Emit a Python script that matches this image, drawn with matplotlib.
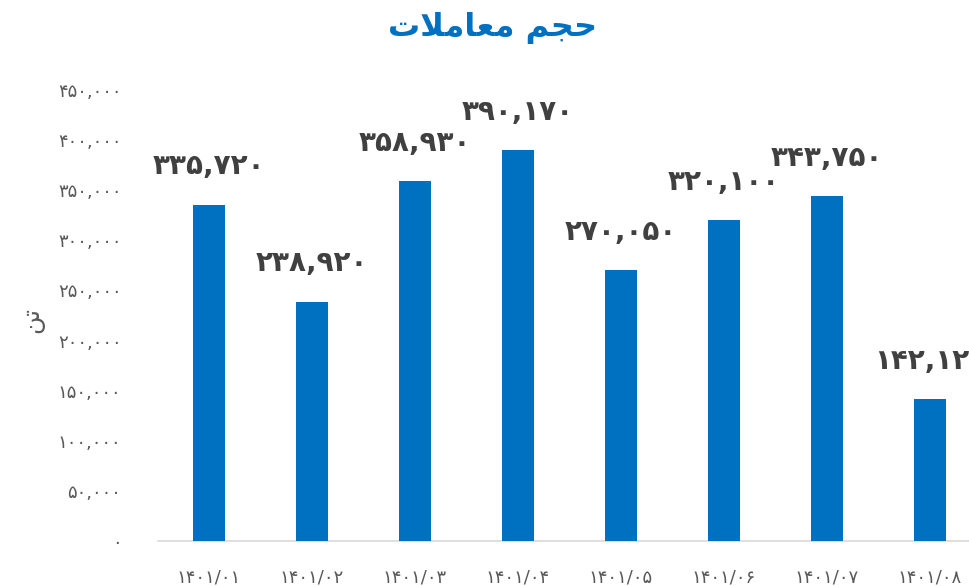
import matplotlib
matplotlib.use('Agg')
import matplotlib.pyplot as plt
from matplotlib.ticker import FuncFormatter

# data
months = ['1401/01', '1401/02', '1401/03', '1401/04',
          '1401/05', '1401/06', '1401/07', '1401/08']
volume = [335720, 238920, 358930, 390170, 270050, 320100, 343750, 142120]
title = 'حجم معاملات'
ylabel = 'تن'

FA_DIGITS = str.maketrans('0123456789', '۰۱۲۳۴۵۶۷۸۹')

# isolated, final, initial, medial (None = letter does not join to the left)
FORMS = {
    'ح': ('\uFEA1', '\uFEA2', '\uFEA3', '\uFEA4'),
    'ج': ('\uFE9D', '\uFE9E', '\uFE9F', '\uFEA0'),
    'م': ('\uFEE1', '\uFEE2', '\uFEE3', '\uFEE4'),
    'ع': ('\uFEC9', '\uFECA', '\uFECB', '\uFECC'),
    'ل': ('\uFEDD', '\uFEDE', '\uFEDF', '\uFEE0'),
    'ت': ('\uFE95', '\uFE96', '\uFE97', '\uFE98'),
    'ن': ('\uFEE5', '\uFEE6', '\uFEE7', '\uFEE8'),
    'ا': ('\uFE8D', '\uFE8E', None, None),
    'لا': ('\uFEFB', '\uFEFC', None, None),
}


def shape(text):
    """Crude arabic shaping + reversal, matplotlib has no bidi support."""
    out = []
    for word in text.split(' '):
        letters = []
        i = 0
        while i < len(word):
            if word[i:i+2] == 'لا':
                letters.append('لا')
                i += 2
            else:
                letters.append(word[i])
                i += 1
        glyphs = []
        for k, ch in enumerate(letters):
            prev_joins = k > 0 and FORMS[letters[k-1]][2] is not None
            next_exists = k < len(letters) - 1
            joins_left = FORMS[ch][2] is not None and next_exists
            iso, fin, ini, med = FORMS[ch]
            if prev_joins and joins_left:
                glyphs.append(med)
            elif prev_joins:
                glyphs.append(fin)
            elif joins_left:
                glyphs.append(ini)
            else:
                glyphs.append(iso)
        out.append(''.join(reversed(glyphs)))
    return ' '.join(reversed(out))


def fa(n):
    return format(int(n), ',').translate(FA_DIGITS)


plt.rcParams['font.family'] = ['DejaVu Sans']

fig = plt.figure(figsize=(9.69, 5.86), dpi=100)
ax = fig.add_axes([157.5/969, 45/586, 824/969, 451/586])

x = range(len(months))
ax.bar(x, volume, width=0.32, color='#0070C0', zorder=3)

for xi, v in zip(x, volume):
    ax.text(xi, v + 24000, fa(v), ha='center', va='bottom',
            fontsize=20, fontweight='bold', color='#404040')

ax.set_xlim(-0.5, len(months) - 0.5)
ax.set_ylim(0, 450000)
ax.set_yticks(range(0, 450001, 50000))
ax.yaxis.set_major_formatter(FuncFormatter(lambda v, p: fa(v)))
ax.set_xticks(list(x))
ax.set_xticklabels([m.translate(FA_DIGITS) for m in months])

ax.tick_params(axis='y', length=0, labelsize=13, labelcolor='#595959', pad=26)
ax.tick_params(axis='x', length=0, labelsize=13, labelcolor='#595959', pad=20)

for s in ['top', 'right', 'left']:
    ax.spines[s].set_visible(False)
ax.spines['bottom'].set_color('#d9d9d9')
ax.spines['bottom'].set_linewidth(1.2)

fig.text(493/969, 1 - 28/586, shape(title), ha='center', va='center',
         fontsize=23, fontweight='bold', color='#0070C0')
fig.text(32/969, 1 - 320/586, shape(ylabel), ha='center', va='center',
         rotation=90, fontsize=18, color='#595959')

fig.savefig('out.png', dpi=100)
